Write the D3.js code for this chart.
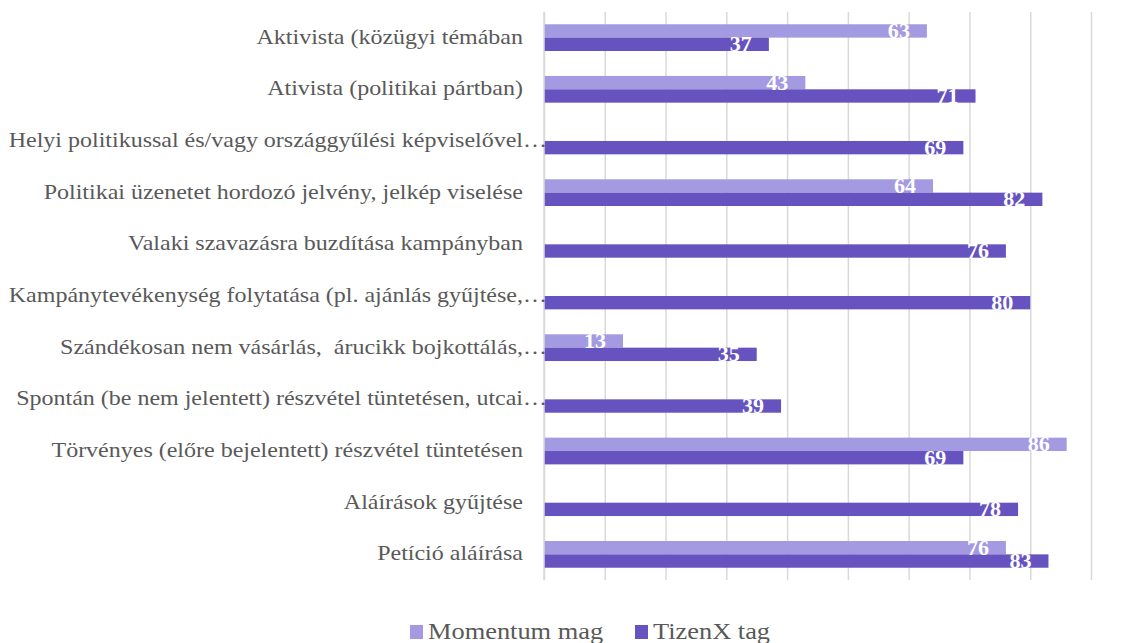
<!DOCTYPE html>
<html>
<head>
<meta charset="utf-8">
<script src="https://cdn.jsdelivr.net/npm/d3@7"></script>
<style>
    body { margin: 0; background: #ffffff; }
    text { white-space: pre; }
</style>
</head>
<body>
<script>
const categories = [
    'Aktivista (közügyi témában',
    'Ativista (politikai pártban)',
    'Helyi politikussal és/vagy országgyűlési képviselővel…',
    'Politikai üzenetet hordozó jelvény, jelkép viselése',
    'Valaki szavazásra buzdítása kampányban',
    'Kampánytevékenység folytatása (pl. ajánlás gyűjtése,…',
    'Szándékosan nem vásárlás,  árucikk bojkottálás,…',
    'Spontán (be nem jelentett) részvétel tüntetésen, utcai…',
    'Törvényes (előre bejelentett) részvétel tüntetésen',
    'Aláírások gyűjtése',
    'Petíció aláírása'
]
const seriesNames = ['Momentum mag', 'TizenX tag']
const momentumValues = [63, 43, null, 64, null, null, 13, null, 86, null, 76]
const tizenxValues = [37, 71, 69, 82, 76, 80, 35, 39, 69, 78, 83]
const xTicks = [0, 10, 20, 30, 40, 50, 60, 70, 80, 90]
const seriesColours = ['#a39ae2', '#6753c0']

const serif = "'Liberation Serif', 'Times New Roman', 'DejaVu Serif', serif"

window.onload = function(){
    chart.draw()
}

class chart {
    static width = 1139
    static height = 643
    static stretch = 1.2

    static draw(){
        const svg = d3.select('body').append('svg')
            .attr('width', this.width)
            .attr('height', this.height)

        const x = d3.scaleLinear().domain([0, 90]).range([544, 1091])
        const y = d3.scaleBand().domain(categories)
            .range([11.8, 580.2])
            .paddingInner(0.483)
            .paddingOuter(0.2415)
        const inner = d3.scaleBand().domain(seriesNames).range([0, y.bandwidth()])

        // gridlines
        svg.append('g')
            .attr('class', 'grid')
            .attr('transform', 'translate(0,580)')
            .call(d3.axisBottom(x).tickValues(xTicks).tickSize(-568).tickFormat(''))
            .call(g => g.select('.domain').remove())
            .call(g => g.selectAll('line').attr('stroke', '#d9d9d9').attr('stroke-width', 1.5))

        const rows = []
        categories.forEach((c, i) => {
            rows.push({cat: c, series: seriesNames[0], value: momentumValues[i], colour: seriesColours[0]})
            rows.push({cat: c, series: seriesNames[1], value: tizenxValues[i], colour: seriesColours[1]})
        })
        const bars = rows.filter(d => d.value !== null)

        svg.append('g').selectAll('rect')
            .data(bars)
            .join('rect')
            .attr('x', x(0))
            .attr('y', d => y(d.cat) + inner(d.series))
            .attr('width', d => x(d.value) - x(0))
            .attr('height', inner.bandwidth())
            .attr('fill', d => d.colour)

        // category axis line
        svg.append('line')
            .attr('x1', x(0)).attr('x2', x(0))
            .attr('y1', 11.8).attr('y2', 580.2)
            .attr('stroke', '#d9d9d9').attr('stroke-width', 1.5)

        // data labels
        svg.append('g').selectAll('text')
            .data(bars)
            .join('text')
            .attr('transform', d => helper.place(x(d.value) - 17, y(d.cat) + inner(d.series) + inner.bandwidth() / 2 + 7, 1.05))
            .attr('text-anchor', 'end')
            .attr('font-family', serif)
            .attr('fill', '#ffffff')
            .attr('font-weight', 'bold')
            .attr('font-size', 21)
            .text(d => d.value)

        // category labels
        const labels = svg.append('g').selectAll('g')
            .data(categories)
            .join('g')
            .attr('transform', d => helper.place(523, y(d) + y.bandwidth() / 2 + 6, this.stretch))
            .attr('font-family', serif)
            .attr('font-size', 20)
            .attr('fill', '#595959')

        labels.append('text')
            .attr('text-anchor', 'end')
            .text(d => d.endsWith('…') ? d.slice(0, -1) : d)
        labels.filter(d => d.endsWith('…')).append('text')
            .attr('text-anchor', 'start')
            .text('…')

        this.legend(svg)
    }

    static legend(svg){
        const items = svg.append('g').selectAll('g')
            .data(seriesNames)
            .join('g')
            .attr('transform', (d, i) => helper.place(i === 0 ? 410 : 635, 625, 1))

        items.append('rect')
            .attr('width', 13).attr('height', 14)
            .attr('fill', (d, i) => seriesColours[i])

        items.append('text')
            .attr('transform', 'translate(18,14) scale(1.1,1)')
            .attr('font-family', serif)
            .attr('font-size', 24)
            .attr('fill', '#595959')
            .text(d => d)
    }
}

class helper {
    static place(x, y, sx){
        return 'translate(' + x + ',' + y + ') scale(' + sx + ',1)'
    }
}
</script>
</body>
</html>
